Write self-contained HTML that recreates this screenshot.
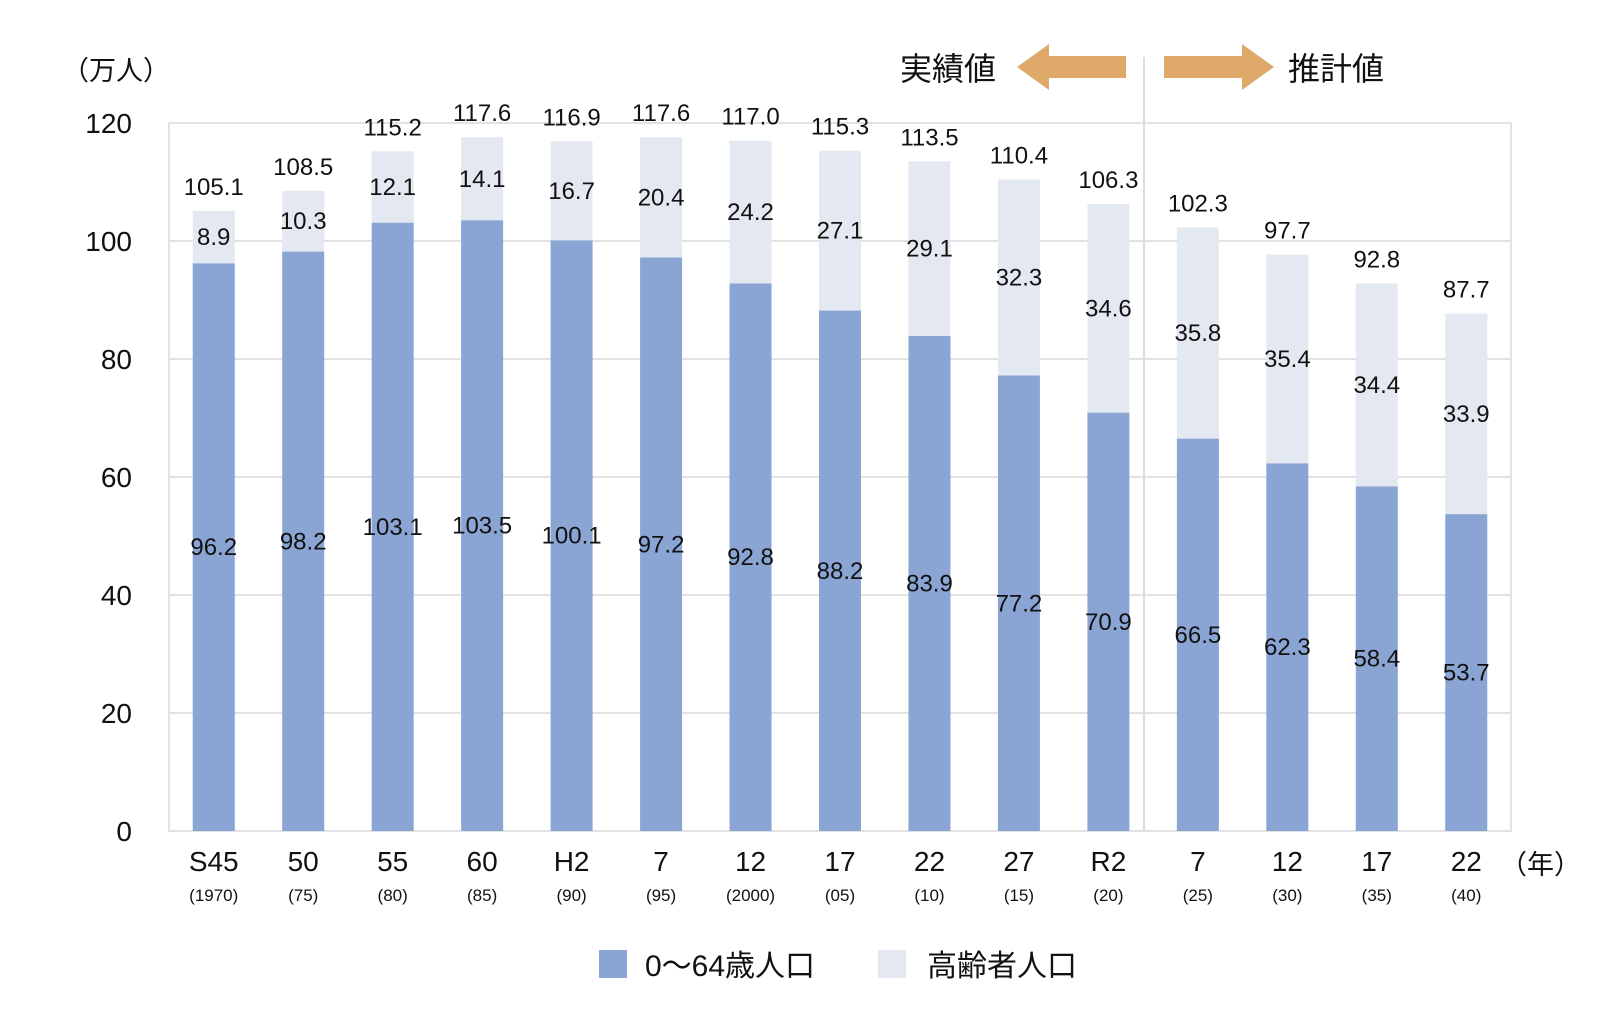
<!DOCTYPE html>
<html><head><meta charset="utf-8"><style>
body{margin:0;background:#fff;}
svg text{font-family:"Liberation Sans","Noto Sans CJK JP",sans-serif;fill:#111;}
</style></head><body>
<svg id="chart" width="1612" height="1016" xmlns="http://www.w3.org/2000/svg">
<g id="grid"></g><g id="bars"></g><g id="labels"></g>
<text x="62" y="80" font-size="27">（万人）</text>
<text x="900" y="80" font-size="32">実績値</text>
<polygon points="1017,67 1049,44 1049,56 1126,56 1126,78 1049,78 1049,90" fill="#dfa96a"/>
<polygon points="1274,67 1242,44 1242,56 1164,56 1164,78 1242,78 1242,90" fill="#dfa96a"/>
<text x="1288" y="80" font-size="32">推計値</text>
<text x="1500" y="874" font-size="27">（年）</text>
<rect x="599" y="950" width="28" height="28" fill="#8aa4d4"/>
<text x="645" y="976" font-size="30">0～64歳人口</text>
<rect x="878" y="950" width="28" height="28" fill="#e4e8f0"/>
<text x="927" y="976" font-size="30">高齢者人口</text>
</svg>
<script>
const categories=["S45","50","55","60","H2","7","12","17","22","27","R2","7","12","17","22"];
const subLabels=["(1970)","(75)","(80)","(85)","(90)","(95)","(2000)","(05)","(10)","(15)","(20)","(25)","(30)","(35)","(40)"];
const young=[96.2,98.2,103.1,103.5,100.1,97.2,92.8,88.2,83.9,77.2,70.9,66.5,62.3,58.4,53.7];
const elderly=[8.9,10.3,12.1,14.1,16.7,20.4,24.2,27.1,29.1,32.3,34.6,35.8,35.4,34.4,33.9];
const totals=[105.1,108.5,115.2,117.6,116.9,117.6,117.0,115.3,113.5,110.4,106.3,102.3,97.7,92.8,87.7];
const yTicks=[0,20,40,60,80,100,120];
const NS="http://www.w3.org/2000/svg";
const L=169,R=1511,T=123,B=831,ymax=120;
const band=(R-L)/categories.length, bw=42;
const y=v=>B-(v/ymax)*(B-T);
const xc=i=>L+band*(i+0.5);
function mk(tag,attrs,parent){const e=document.createElementNS(NS,tag);for(const k in attrs)e.setAttribute(k,attrs[k]);document.getElementById(parent).appendChild(e);return e;}
const g='grid';
yTicks.forEach(t=>{
  const ln=mk('line',{x1:L,x2:R,y1:y(t),y2:y(t),stroke:'#e2e2e2','stroke-width':2},g);
  
  
  const tx=mk('text',{x:132,y:y(t)+10,'text-anchor':'end','font-size':28},g);
  tx.textContent=t;
  
  
});
let fr=mk('rect',{x:L,y:T,width:R-L,height:B-T,fill:'none',stroke:'#e2e2e2','stroke-width':2},g);


let dv=mk('line',{x1:1144,x2:1144,y1:57,y2:B,stroke:'#dcdcdc','stroke-width':2},g);


categories.forEach((c,i)=>{
  const x=xc(i);
  const top=y(totals[i]), mid=y(young[i]);
  const gr=mk('rect',{x:x-bw/2,y:top,width:bw,height:mid-top,fill:'#e4e8f0'},'bars');
  
  
  const bl=mk('rect',{x:x-bw/2,y:mid,width:bw,height:B-mid,fill:'#8aa4d4'},'bars');
  
  
  const t1=mk('text',{x:x,y:top-16,'text-anchor':'middle','font-size':24},'labels');
  t1.textContent=totals[i].toFixed(1);
  
  
  const t2=mk('text',{x:x,y:(top+mid)/2+8,'text-anchor':'middle','font-size':24},'labels');
  t2.textContent=elderly[i].toFixed(1);
  
  
  const t3=mk('text',{x:x,y:(mid+B)/2+8,'text-anchor':'middle','font-size':24},'labels');
  t3.textContent=young[i].toFixed(1);
  
  
  const t4=mk('text',{x:x,y:871,'text-anchor':'middle','font-size':28},'labels');
  t4.textContent=c;
  
  
  const t5=mk('text',{x:x,y:901,'text-anchor':'middle','font-size':17},'labels');
  t5.textContent=subLabels[i];
  
  
});
</script>
</body></html>
